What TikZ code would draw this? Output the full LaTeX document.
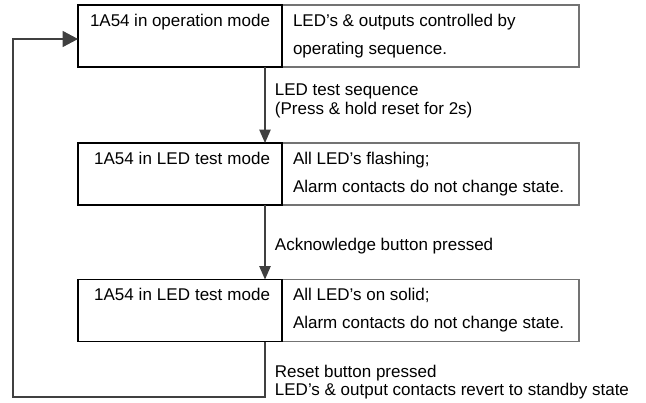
\documentclass[tikz,border=0pt]{standalone}
\usepackage{fontspec}
\setmainfont{Liberation Sans}
\usetikzlibrary{arrows.meta}

\begin{document}
\begin{tikzpicture}[x=0.75pt,y=-0.75pt,
    every node/.style={font=\fontsize{12.75}{21}\selectfont,
      execute at begin node={\spaceskip=0pt\xspaceskip=0pt}},
    modebox/.style={draw=black,line width=1.1pt,outer sep=0pt,inner xsep=9pt,inner ysep=0pt,
      text width=135pt,align=right,minimum height=46.5pt,anchor=east},
    infobox/.style={draw=black!55,line width=0.8pt,outer sep=0pt,inner xsep=8.25pt,inner ysep=0pt,
      text width=206.25pt,align=left,minimum height=46.5pt,anchor=west},
    flow/.style={draw=black!75,line width=0.9pt,-{Triangle[length=10pt,width=8.5pt]}},
    backflow/.style={draw=black!75,line width=0.9pt,-{Triangle[length=11.5pt,width=12pt]}},
    note/.style={font=\fontsize{12.75}{14}\selectfont,align=left,inner sep=0pt,xshift=7pt}]
   \useasboundingbox (0,0) rectangle (646,403);
   % the three states
   \node[infobox] (info1) at (282,36) {LED’s \& outputs controlled by\\operating sequence.};
   \node[modebox] (mode1) at (282,36) {1A54 in operation mode\\\vphantom{g}};
   \node[infobox] (info2) at (282,174) {All LED’s flashing;\\Alarm contacts do not change state.};
   \node[modebox] (mode2) at (282,174) {1A54 in LED test mode\\\vphantom{g}};
   \node[infobox] (info3) at (282,310.5) {All LED’s on solid;\\Alarm contacts do not change state.};
   \node[modebox] (mode3) at (282,310.5) {1A54 in LED test mode\\\vphantom{g}};
   % transitions
   \coordinate (loop) at (13,397);
   \draw[flow] ([xshift=-12.75pt]mode1.south east) -- ([xshift=-12.75pt]mode2.north east)
     node[note,pos=0.45,anchor=west] (step1) {LED test sequence\\(Press \& hold reset for 2s)};
   \draw[flow] ([xshift=-12.75pt]mode2.south east) -- ([xshift=-12.75pt]mode3.north east)
     node[note,pos=0.55,anchor=west] (step2) {Acknowledge button pressed};
   \draw[backflow] ([xshift=-12.75pt]mode3.south east) |- (loop)
     node[note,pos=0.5,anchor=south west,yshift=-2.25pt] (step3) {Reset button pressed\\LED’s \& output contacts revert to standby state}
     |- ([yshift=-2.25pt]mode1.west);
\end{tikzpicture}
\end{document}
